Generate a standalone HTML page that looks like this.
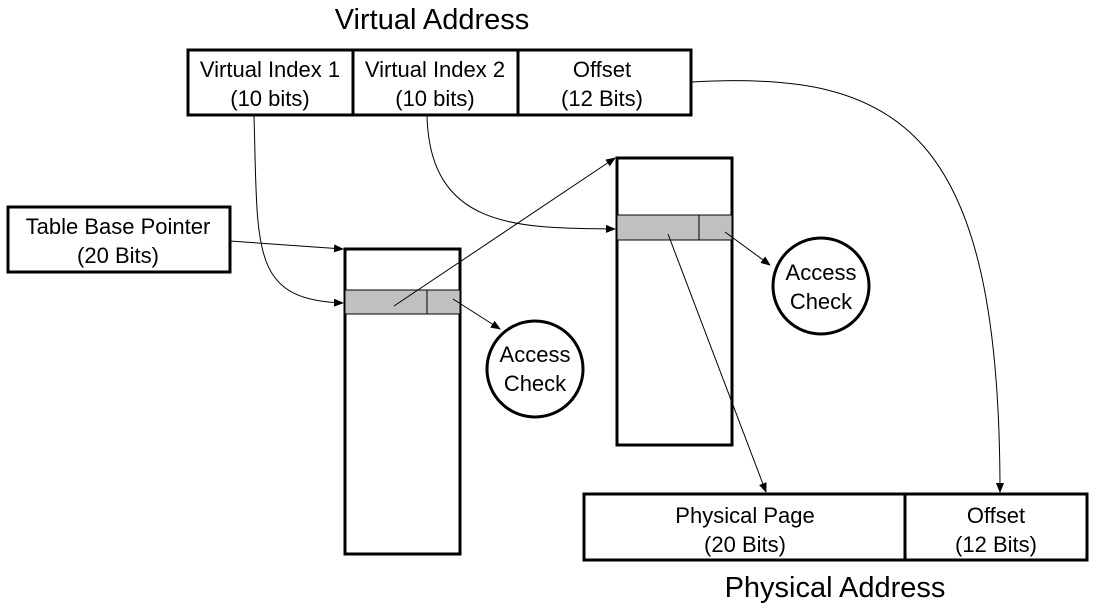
<!DOCTYPE html>
<html><head><style>
body{margin:0;background:#fff;}
svg text{font-family:"Liberation Sans",sans-serif;fill:#000;}
</style></head><body>
<svg width="1098" height="604" viewBox="0 0 1098 604" xmlns="http://www.w3.org/2000/svg">
<defs><marker id="a" markerWidth="10" markerHeight="8" refX="9" refY="4" orient="auto" markerUnits="userSpaceOnUse"><path d="M0,0 L10,4 L0,8z" fill="#000"/></marker></defs>
<rect x="188" y="50" width="503" height="65" fill="#fff" stroke="#000" stroke-width="3"/>
<line x1="353" y1="50" x2="353" y2="115" stroke="#000" stroke-width="3"/>
<line x1="518" y1="50" x2="518" y2="115" stroke="#000" stroke-width="3"/>
<rect x="8" y="207" width="222" height="65" fill="#fff" stroke="#000" stroke-width="3"/>
<rect x="345" y="249" width="115" height="305" fill="#fff" stroke="#000" stroke-width="3"/>
<rect x="345" y="290" width="115" height="24" fill="#c0c0c0" stroke="#000" stroke-width="1"/>
<line x1="427" y1="290" x2="427" y2="314" stroke="#000"/>
<rect x="617" y="158" width="115" height="287" fill="#fff" stroke="#000" stroke-width="3"/>
<rect x="617" y="215" width="115" height="25" fill="#c0c0c0" stroke="#000" stroke-width="1"/>
<line x1="699" y1="215" x2="699" y2="240" stroke="#000"/>
<rect x="584" y="494" width="503" height="66" fill="#fff" stroke="#000" stroke-width="3"/>
<line x1="905" y1="494" x2="905" y2="560" stroke="#000" stroke-width="3"/>
<circle cx="535" cy="369" r="48" fill="none" stroke="#000" stroke-width="3"/>
<circle cx="821" cy="286" r="48" fill="none" stroke="#000" stroke-width="3"/>
<text x="432" y="29" font-size="29" text-anchor="middle">Virtual Address</text>
<text x="835" y="597" font-size="29" text-anchor="middle">Physical Address</text>
<g font-size="22" text-anchor="middle">
<text x="270" y="77">Virtual Index 1</text><text x="270" y="106">(10 bits)</text>
<text x="435" y="77">Virtual Index 2</text><text x="435" y="106">(10 bits)</text>
<text x="602" y="77">Offset</text><text x="602" y="106">(12 Bits)</text>
<text x="118" y="234">Table Base Pointer</text><text x="118" y="263">(20 Bits)</text>
<text x="745" y="523">Physical Page</text><text x="745" y="552">(20 Bits)</text>
<text x="996" y="523">Offset</text><text x="996" y="552">(12 Bits)</text>
<text x="535" y="362">Access</text><text x="535" y="391">Check</text>
<text x="821" y="280">Access</text><text x="821" y="309">Check</text>
</g>
<g fill="none" stroke="#000" stroke-width="1" marker-end="url(#a)">
<path d="M230,241 L343,249"/>
<path d="M254,116 C258,250 250,300 343,303"/>
<path d="M394,306 L615,158"/>
<path d="M427,116 C430,230 520,228 615,229"/>
<path d="M453,299 L500,329"/>
<path d="M725,232 L770,265"/>
<path d="M668,234 L766,492"/>
<path d="M692,82 C900,70 1000,130 1000,492"/>
</g>
</svg>
</body></html>
